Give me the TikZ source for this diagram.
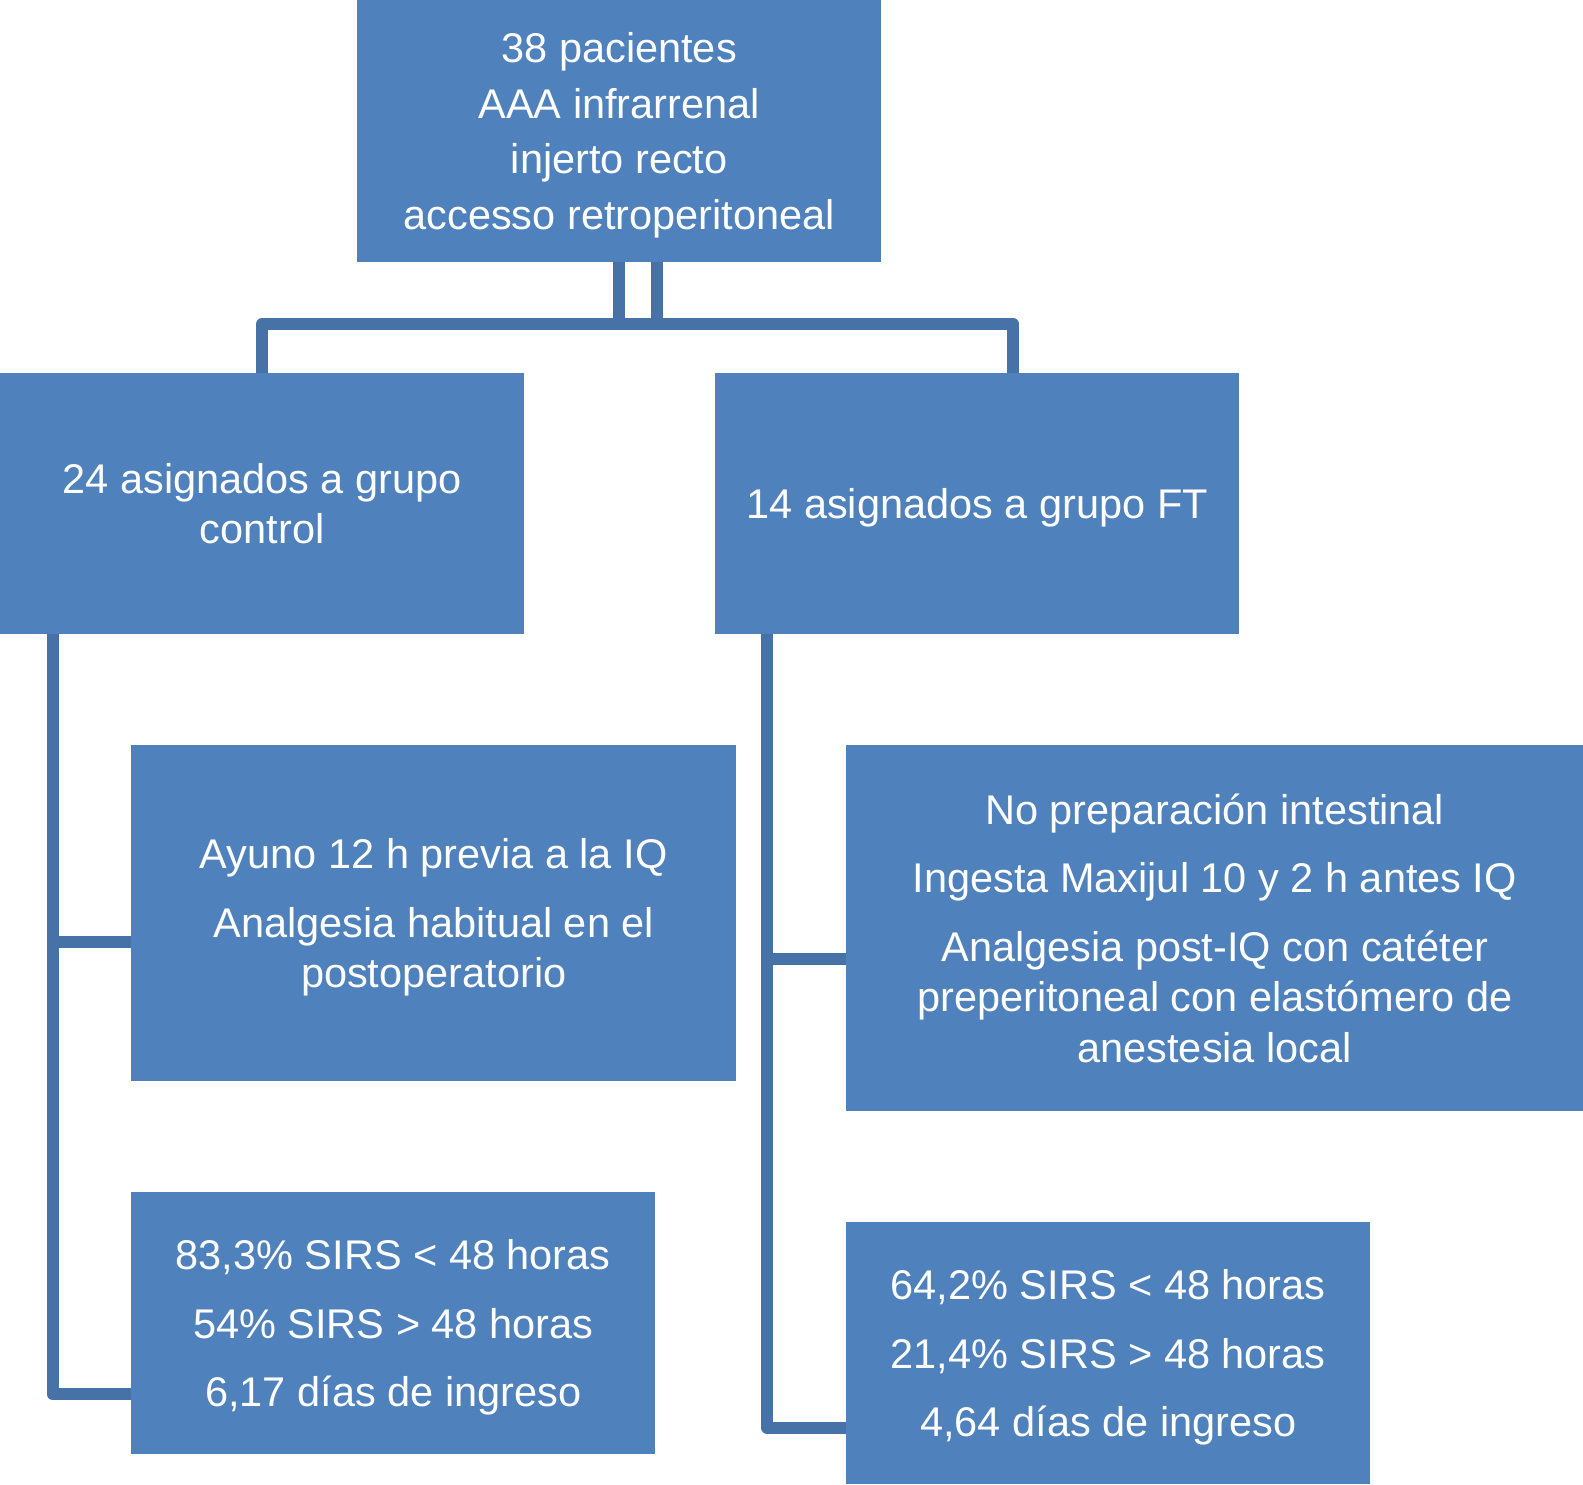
\documentclass[tikz,border=0pt]{standalone}
\usepackage{fontspec}
\setmainfont{Liberation Sans}
\usetikzlibrary{calc,backgrounds}
\definecolor{boxblue}{HTML}{4F81BD}
\definecolor{lineblue}{HTML}{4672A8}
\newcommand{\fstrut}{\rule{0pt}{38.5pt}}
\tikzset{
  box/.style={fill=boxblue, draw=none, text=white, align=center, inner sep=0pt,
    anchor=north west, font=\fontsize{41.5}{50.5}\selectfont},
  conn/.style={draw=lineblue, line width=12pt, line join=round}
}
\begin{document}
\begin{tikzpicture}[x=1pt,y=-1pt]
\useasboundingbox (0,0) rectangle (1583,1484);
\node[box, minimum width=524pt, minimum height=262pt] (top) at (357,0)
  {\fstrut 38 pacientes\\[5pt] AAA infrarrenal\\[5pt] injerto recto\\[5pt] accesso retroperitoneal};
\node[box, minimum width=524pt, minimum height=261.5pt] (ctrl) at (0,372.5)
  {24 asignados a grupo\\ control};
\node[box, minimum width=524pt, minimum height=261.5pt] (ft) at (715,372.5)
  {\fstrut 14 asignados a grupo FT};
\node[box, minimum width=605pt, minimum height=336pt] (lb3) at (131,745)
  {\fstrut Ayuno 12 h previa a la IQ\\[18pt] Analgesia habitual en el\\ postoperatorio};
\node[box, minimum width=524pt, minimum height=262pt] (lb4) at (131,1192)
  {\fstrut 83,3\% SIRS < 48 horas\\[18pt] 54\% SIRS > 48 horas\\[18pt] 6,17 días de ingreso};
\node[box, minimum width=737pt, minimum height=366pt] (rb3) at (846,745)
  {No preparación intestinal\\[18pt] Ingesta Maxijul 10 y 2 h antes IQ\\[18pt] Analgesia post-IQ con catéter\\ preperitoneal con elastómero de\\ anestesia local};
\node[box, minimum width=524pt, minimum height=262pt] (rb4) at (846,1222)
  {\fstrut 64,2\% SIRS < 48 horas\\[18pt] 21,4\% SIRS > 48 horas\\[18pt] 4,64 días de ingreso};
\begin{scope}[on background layer]
\coordinate (hubL) at ($(top.south)+(0,61.5)$);
\coordinate (hubR) at ($(top.south)+(38,61.5)$);
\draw[conn] (top.south) -- (hubL);
\draw[conn] ($(top.south)+(38,0)$) -- (hubR);
\draw[conn] (ctrl.north) |- (hubL) -- (hubR) -| ($(ft.north)+(36,0)$);
\coordinate (lv) at ($(ctrl.south west)+(52.5,0)$);
\draw[conn] (lv) |- ($(lb3.west)+(0,29)$);
\draw[conn] (lv) |- ($(lb4.west)+(0,71)$);
\coordinate (rv) at ($(ft.south west)+(52,0)$);
\draw[conn] (rv) |- ($(rb3.west)+(0,30.5)$);
\draw[conn] (rv) |- ($(rb4.west)+(0,74.5)$);
\end{scope}
\end{tikzpicture}
\end{document}
